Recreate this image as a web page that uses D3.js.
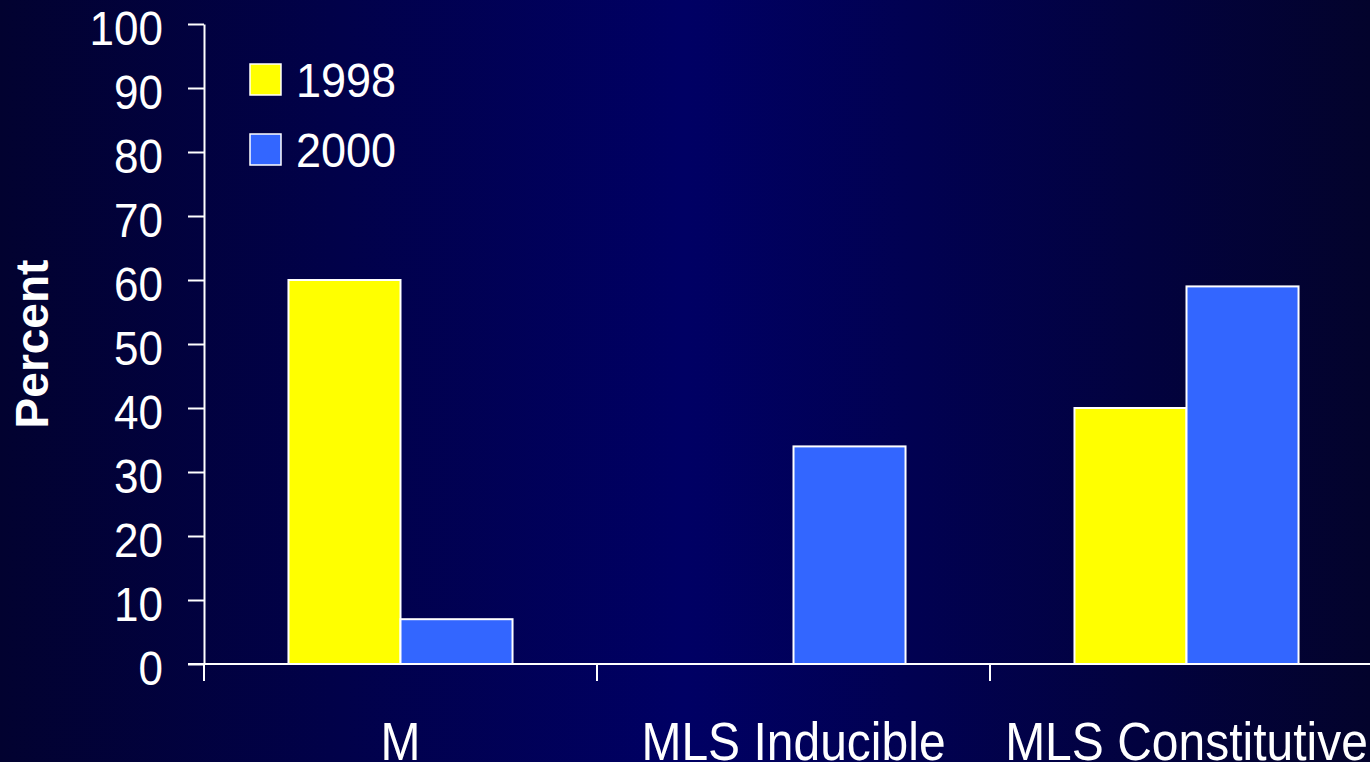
<!DOCTYPE html>
<html>
<head>
<meta charset="utf-8">
<script src="https://cdn.jsdelivr.net/npm/d3@7"></script>
<style>
  html, body { margin: 0; padding: 0; background: #000033; overflow: hidden; }
  svg { display: block; font-family: "Liberation Sans", Arial, sans-serif; }
</style>
</head>
<body>
<svg id="chart" width="1370" height="762"></svg>
<script>
// data
const categories = ["M", "MLS Inducible", "MLS Constitutive"];
const seriesNames = ["1998", "2000"];
const values1998 = [60, 0, 40];
const values2000 = [7, 34, 59];
const yTicks = [0, 10, 20, 30, 40, 50, 60, 70, 80, 90, 100];
const colors = ["#ffff00", "#3366ff"];

const width = 1370, height = 762;
const svg = d3.select("#chart");

// background gradient, brighter in the middle
const defs = svg.append("defs");
const grad = defs.append("linearGradient").attr("id", "bg")
    .attr("x1", "0%").attr("x2", "100%").attr("y1", "0%").attr("y2", "0%");
grad.append("stop").attr("offset", "0%").attr("stop-color", "#020230");
grad.append("stop").attr("offset", "50%").attr("stop-color", "#000064");
grad.append("stop").attr("offset", "100%").attr("stop-color", "#03032c");
svg.append("rect").attr("width", width).attr("height", height).attr("fill", "url(#bg)");

const x0 = d3.scaleBand().domain(categories).range([204, 204 + 3 * 393]).paddingInner(0);
const x1 = d3.scaleBand().domain(seriesNames).range([0, x0.bandwidth()]).paddingInner(0).paddingOuter(0.754);
const y = d3.scaleLinear().domain([0, 100]).range([664, 24]);
const color = d3.scaleOrdinal().domain(seriesNames).range(colors);

const rows = categories.map((c, i) => ({
    cat: c,
    vals: [{key: "1998", v: values1998[i]}, {key: "2000", v: values2000[i]}]
}));

// bars
const groups = svg.append("g").selectAll("g")
    .data(rows)
    .join("g")
    .attr("transform", d => `translate(${x0(d.cat)},0)`);

groups.selectAll("rect")
    .data(d => d.vals.filter(v => v.v > 0))
    .join("rect")
    .attr("x", d => x1(d.key))
    .attr("y", d => y(d.v))
    .attr("width", x1.bandwidth())
    .attr("height", d => y(0) - y(d.v))
    .attr("fill", d => color(d.key))
    .attr("stroke", "#ffffff")
    .attr("stroke-width", 2);

// y axis
const yAxis = svg.append("g")
    .attr("transform", "translate(204,0)")
    .call(d3.axisLeft(y).tickValues(yTicks).tickSize(16).tickSizeOuter(0).tickPadding(0));
yAxis.select(".domain").attr("stroke", "#fff").attr("stroke-width", 2);
yAxis.selectAll(".tick line").attr("stroke", "#fff").attr("stroke-width", 2);
yAxis.selectAll(".tick text")
    .attr("x", 0)
    .attr("y", 0)
    .attr("dy", null)
    .attr("transform", "translate(-41,20) scale(1,1.08)")
    .attr("fill", "#fff")
    .attr("font-size", 44)
    .attr("font-family", "Liberation Sans, Arial, sans-serif");

// x axis
const xAxis = svg.append("g")
    .attr("transform", "translate(0,664)")
    .call(d3.axisBottom(x0).tickSize(0).tickSizeOuter(0));
xAxis.select(".domain").remove();
xAxis.append("line")
    .attr("x1", 188).attr("x2", width)
    .attr("stroke", "#fff").attr("stroke-width", 2);
xAxis.selectAll(".sep")
    .data(categories.concat(["end"]))
    .join("line")
    .attr("class", "sep")
    .attr("x1", (d, i) => 204 + i * x0.step())
    .attr("x2", (d, i) => 204 + i * x0.step())
    .attr("y1", 0).attr("y2", 17)
    .attr("stroke", "#fff").attr("stroke-width", 2);
xAxis.selectAll(".tick text")
    .attr("x", 0)
    .attr("y", 0)
    .attr("dy", null)
    .attr("transform", "translate(0,96) scale(1,1.12)")
    .attr("fill", "#fff")
    .attr("font-size", 48)
    .attr("font-family", "Liberation Sans, Arial, sans-serif");

// y title
svg.append("text")
    .attr("transform", "translate(48,344) rotate(-90)")
    .attr("text-anchor", "middle")
    .attr("fill", "#fff")
    .attr("font-size", 46)
    .attr("font-weight", "bold")
    .text("Percent");

// legend
const legend = svg.append("g").attr("transform", "translate(250,64)");
const items = legend.selectAll("g")
    .data(seriesNames)
    .join("g")
    .attr("transform", (d, i) => `translate(0,${i * 70})`);
items.append("rect")
    .attr("width", 31).attr("height", 31)
    .attr("fill", d => color(d))
    .attr("stroke", "#fff").attr("stroke-width", 1.5);
items.append("text")
    .attr("transform", "translate(46,33) scale(1,1.05)")
    .attr("fill", "#fff")
    .attr("font-size", 45)
    .text(d => d);
</script>
</body>
</html>
